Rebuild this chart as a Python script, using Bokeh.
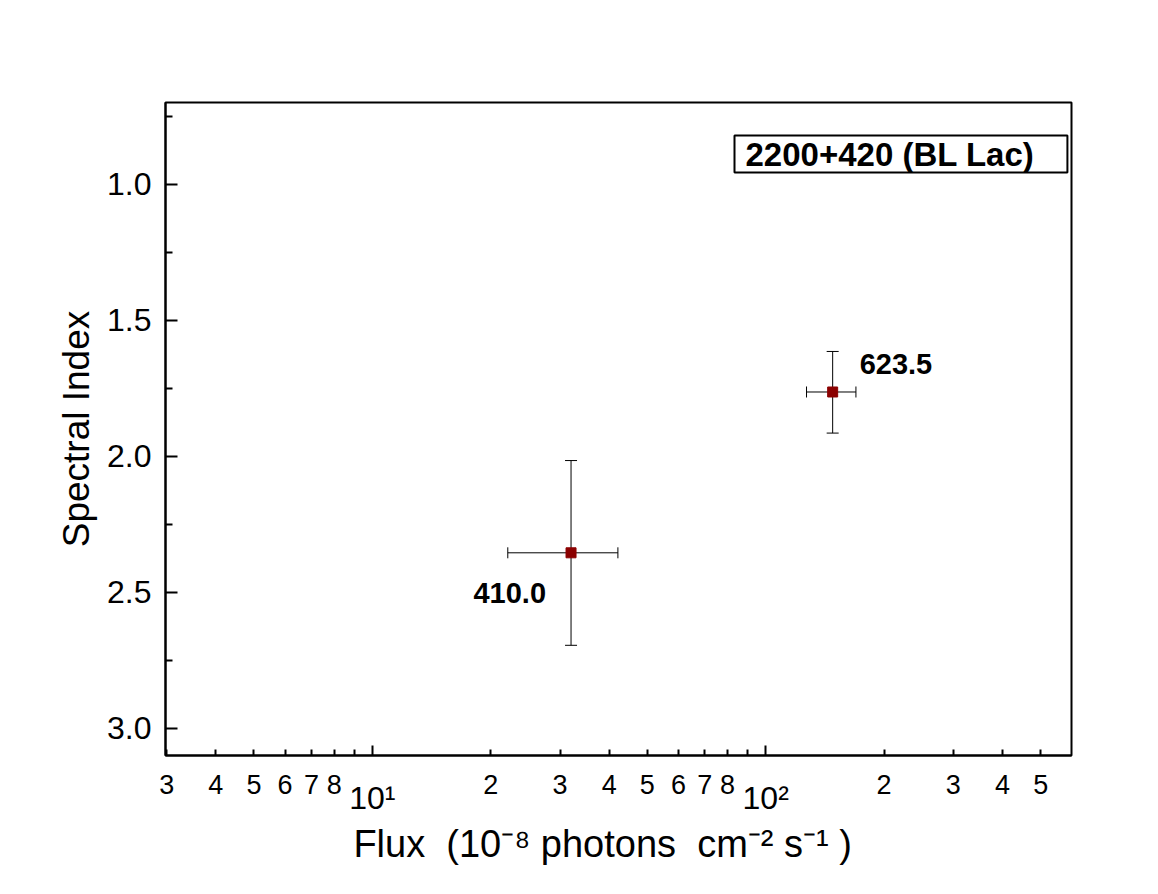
from bokeh.plotting import figure
from bokeh.models import (ColumnDataSource, Range1d, FixedTicker, Whisker, TeeHead,
                          Label, NumeralTickFormatter, LogAxis)
from bokeh.core.properties import value
from bokeh.embed import file_html
from bokeh.resources import INLINE

# ---- data ----
flux = [32.0, 148.0]
flux_lo = [22.1, 127.0]
flux_hi = [42.1, 169.6]
spec_index = [2.355, 1.764]
index_lo = [2.016, 1.615]
index_hi = [2.695, 1.915]
epoch_labels = ["410.0", "623.5"]
source_name = "2200+420 (BL Lac)"

x_ticks = [3, 4, 5, 6, 7, 8, 9, 20, 30, 40, 50, 60, 70, 80, 90, 200, 300, 400, 500]
x_tick_text = ["3", "4", "5", "6", "7", "8", "", "2", "3", "4", "5", "6", "7", "8", "", "2", "3", "4", "5"]
x_decades = [10, 100]
x_decade_text = ["10\u00b9", "10\u00b2"]
y_major = [1.0, 1.5, 2.0, 2.5, 3.0]
y_minor = [0.75, 1.25, 1.75, 2.25, 2.75]

NB = "\u00a0"
x_title = "Flux" + NB * 2 + "(10\u207b\u2078 photons" + NB * 2 + "cm\u207b\u00b2 s\u207b\u00b9 )" + NB * 3
y_title = "Spectral Index"

# ---- styles ----
FONT = "Liberation Sans"
label_align = ["right", "left"]
label_dx = [-25, 27]
label_dy = [40, -28]

src = ColumnDataSource(dict(flux=flux, flux_lo=flux_lo, flux_hi=flux_hi,
                            idx=spec_index, idx_lo=index_lo, idx_hi=index_hi,
                            lab=epoch_labels, align=label_align, dx=label_dx, dy=label_dy))

p = figure(width=1142, height=878, x_axis_type="log",
           x_range=Range1d(2.98, 599), y_range=Range1d(3.10, 0.70),
           output_backend="svg", toolbar_location=None,
           min_border_left=165, min_border_right=71, min_border_top=102, min_border_bottom=123)
p.xgrid.visible = False
p.ygrid.visible = False
p.outline_line_color = "black"
p.outline_line_width = 2
p.background_fill_color = "white"
p.border_fill_color = "white"

# x axis: digit labels
xa = p.xaxis[0]
xa.ticker = FixedTicker(ticks=x_ticks, minor_ticks=x_decades)
xa.major_label_overrides = {t: s for t, s in zip(x_ticks, x_tick_text)}
xa.axis_line_width = 2
xa.major_tick_in = 6
xa.major_tick_out = 0
xa.minor_tick_in = 10
xa.minor_tick_out = 0
xa.major_tick_line_width = 2
xa.minor_tick_line_width = 2
xa.major_label_text_font = FONT
xa.major_label_text_font_size = "27px"
xa.major_label_text_color = "black"
xa.major_label_standoff = 19

# x axis: decade labels (second axis, pulled up next to the digits)
xd = LogAxis(ticker=FixedTicker(ticks=x_decades),
             major_label_overrides={t: s for t, s in zip(x_decades, x_decade_text)})
xd.axis_line_color = None
xd.major_tick_line_color = None
xd.minor_tick_line_color = None
xd.major_label_text_font = FONT
xd.major_label_text_font_size = "32px"
xd.major_label_text_color = "black"
xd.major_label_standoff = -23
xd.axis_label = x_title
xd.axis_label_text_font = FONT
xd.axis_label_text_font_size = "38px"
xd.axis_label_text_font_style = "normal"
xd.axis_label_text_color = "black"
xd.axis_label_standoff = 4
p.add_layout(xd, "below")

# y axis
ya = p.yaxis[0]
ya.ticker = FixedTicker(ticks=y_major, minor_ticks=y_minor)
ya.formatter = NumeralTickFormatter(format="0.0")
ya.axis_line_width = 2
ya.major_tick_in = 12
ya.major_tick_out = 0
ya.minor_tick_in = 7
ya.minor_tick_out = 0
ya.major_tick_line_width = 2
ya.minor_tick_line_width = 2
ya.major_label_text_font = FONT
ya.major_label_text_font_size = "32px"
ya.major_label_text_color = "black"
ya.major_label_standoff = 14
ya.axis_label = y_title
ya.axis_label_text_font = FONT
ya.axis_label_text_font_size = "37px"
ya.axis_label_text_font_style = "normal"
ya.axis_label_text_color = "black"
ya.axis_label_standoff = 7

# error bars
p.add_layout(Whisker(source=src, base="idx", lower="flux_lo", upper="flux_hi", dimension="width",
                     line_color="black", line_width=1,
                     lower_head=TeeHead(size=11, line_color="black", line_width=1),
                     upper_head=TeeHead(size=11, line_color="black", line_width=1)))
p.add_layout(Whisker(source=src, base="flux", lower="idx_lo", upper="idx_hi", dimension="height",
                     line_color="black", line_width=1,
                     lower_head=TeeHead(size=12, line_color="black", line_width=1),
                     upper_head=TeeHead(size=12, line_color="black", line_width=1)))

p.scatter("flux", "idx", source=src, marker="square", size=10,
          fill_color="#8b0000", line_color="#8b0000")

p.text("flux", "idx", text="lab", source=src, text_align="align", x_offset="dx", y_offset="dy",
       text_baseline="alphabetic", text_font=value(FONT), text_font_style="bold",
       text_font_size="29px", text_color="black")

# source name box
p.add_layout(Label(x=569, y=583, x_units="screen", y_units="screen", text=source_name,
                   text_align="left", text_baseline="bottom",
                   text_font=FONT, text_font_style="bold", text_font_size="33px",
                   text_color="black", border_line_color="black", border_line_width=2,
                   background_fill_color="white",
                   padding=dict(left=11, right=33, top=0, bottom=0)))

open("out.html", "w").write(file_html(p, INLINE))
